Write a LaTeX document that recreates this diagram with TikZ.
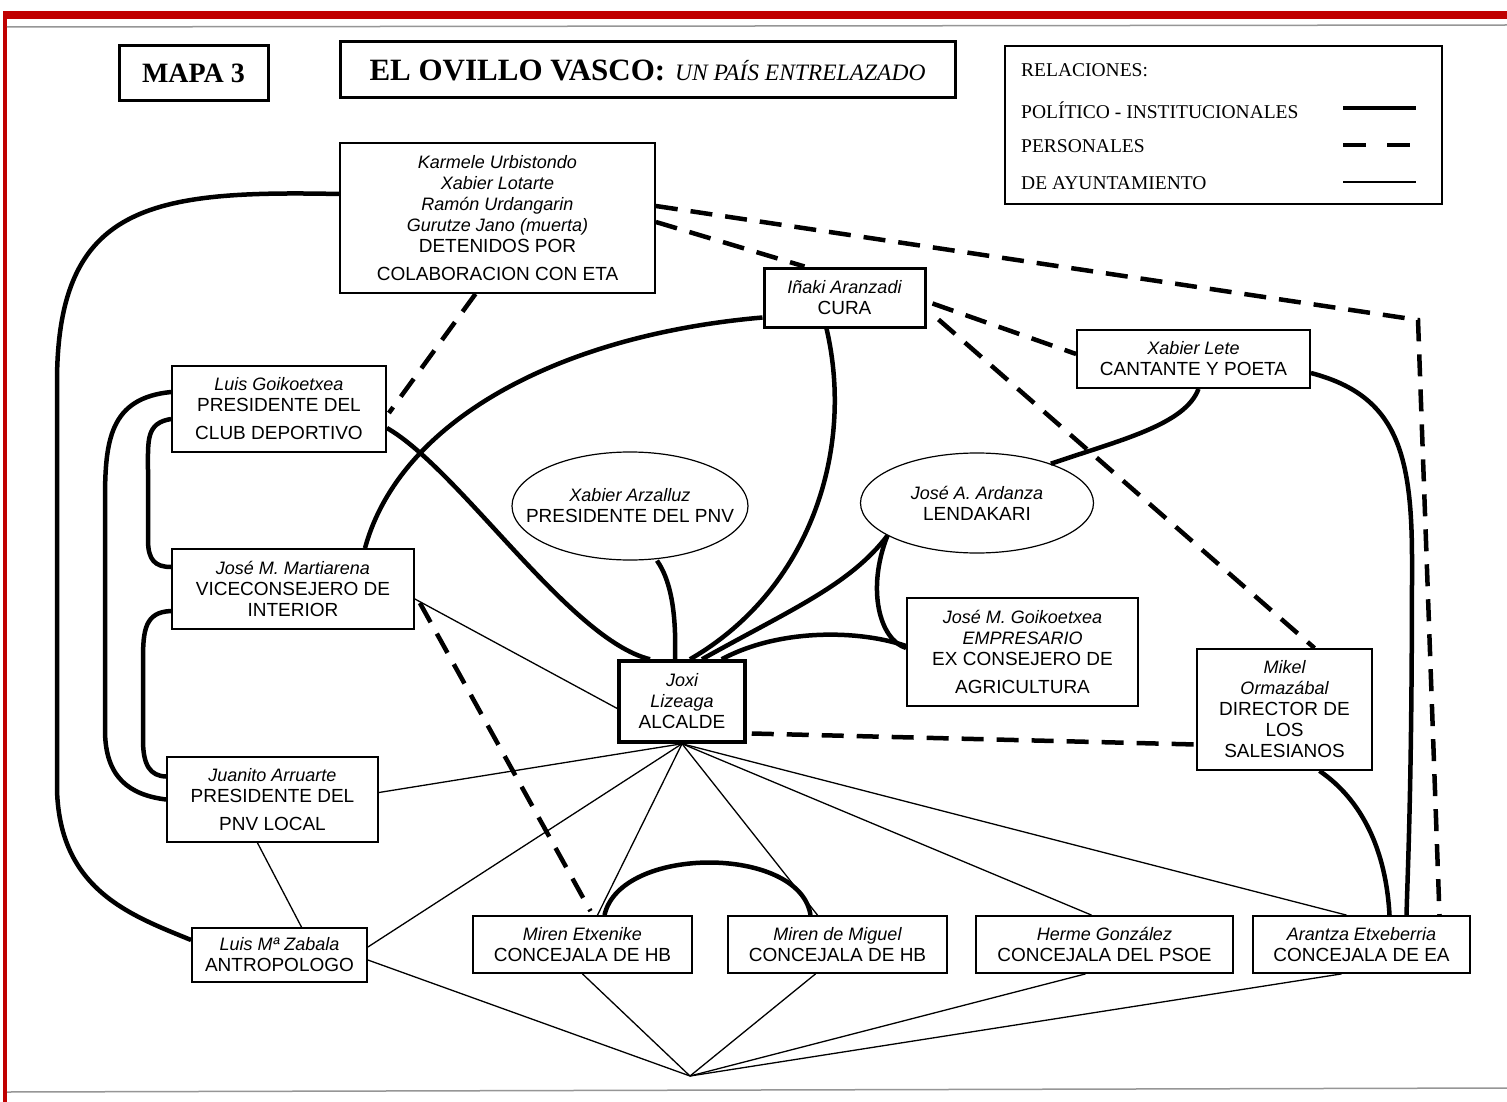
\documentclass[tikz,border=0pt]{standalone}
\usepackage{fontspec}
\setmainfont{Liberation Serif}
\setsansfont{Liberation Sans}
\usetikzlibrary{shapes.geometric}

\definecolor{framered}{RGB}{192,0,0}
\definecolor{scangray}{RGB}{150,150,150}

\newcommand\dgcaps{\sffamily\fontsize{19}{21}\selectfont}
\newcommand\dgname[1]{{\itshape\fontsize{18}{21}\selectfont #1}}

\begin{document}
\begin{tikzpicture}[x=1pt,y=-1pt,
  box/.style={draw, line width=1.8pt, inner sep=0pt, align=center, font=\dgcaps, fill=white},
  heavybox/.style={box, line width=3.5pt},
  oval/.style={ellipse, draw, line width=1.2pt, inner sep=0pt, fill=white},
  ovaltext/.style={inner sep=0pt, align=center, font=\dgcaps},
  headbox/.style={draw, line width=3pt, inner sep=0pt, align=center},
  legendtext/.style={anchor=west, inner sep=0pt, font=\rmfamily\fontsize{19.5}{20}\selectfont},
  pol/.style={line width=4.5pt},
  pers/.style={line width=4.5pt, dash pattern=on 22pt off 13pt},
  ayto/.style={line width=1.3pt},
]
\useasboundingbox (0,0) rectangle (1507,1102);
\fill[white] (0,0) rectangle (1507,1102);

% page frame
\fill[framered] (3,11) rectangle (1507,19);
\fill[framered] (3,11) rectangle (7,1102);
\draw[scangray, line width=1.5pt] (7,27) -- (1507,25);
\draw[scangray, line width=1.5pt] (7,1092) -- (1507,1088);

% headings
\node[headbox, minimum width=149pt, minimum height=55pt, font=\rmfamily\bfseries\fontsize{28}{28}\selectfont] (mapa) at (193.5,73.5) {MAPA 3};
\node[headbox, minimum width=615pt, minimum height=56pt] (title) at (647.5,70)
  {{\rmfamily\bfseries\fontsize{31}{31}\selectfont EL OVILLO VASCO:}\hspace{10pt}{\rmfamily\itshape\fontsize{23.5}{23.5}\selectfont UN PAÍS ENTRELAZADO}};

% legend
\node[draw, line width=2pt, minimum width=437pt, minimum height=158pt, inner sep=0pt] (legend) at (1223.5,125) {};
\node[legendtext] (lg0) at (1021,70) {RELACIONES:};
\node[legendtext] (lg1) at (1021,110) {POLÍTICO - INSTITUCIONALES};
\node[legendtext] (lg2) at (1021,146) {PERSONALES};
\node[legendtext] (lg3) at (1021,183) {DE AYUNTAMIENTO};
\draw[pol] (1343,108) -- (1416,108);
\draw[line width=4.5pt] (1343,145) -- (1366,145) (1387,145) -- (1410,145);
\draw[ayto] (1343,182) -- (1416,182);

% people
\node[box, minimum width=315pt, minimum height=150pt] (det) at (497.5,218)
  {\dgname{Karmele Urbistondo}\\ \dgname{Xabier Lotarte}\\ \dgname{Ramón Urdangarin}\\ \dgname{Gurutze Jano (muerta)}\\ DETENIDOS POR\\[7pt] COLABORACION CON ETA};
\node[box, line width=3pt, minimum width=161pt, minimum height=59pt] (inaki) at (844.5,297.5)
  {\dgname{Iñaki Aranzadi}\\ CURA};
\node[box, minimum width=233pt, minimum height=58pt] (lete) at (1193.5,359)
  {\dgname{Xabier Lete}\\ CANTANTE Y POETA};
\node[box, minimum width=214pt, minimum height=86pt] (luisg) at (279,409)
  {\dgname{Luis Goikoetxea}\\ PRESIDENTE DEL\\[7pt] CLUB DEPORTIVO};
\node[oval, minimum width=236pt, minimum height=108pt] (arz) at (630,506) {};
\node[ovaltext] (arzt) at (arz.center) {\dgname{Xabier Arzalluz}\\ PRESIDENTE DEL PNV};
\node[oval, minimum width=233pt, minimum height=100pt] (ard) at (977,503) {};
\node[ovaltext] (ardt) at (ard.center) {\dgname{José A. Ardanza}\\ LENDAKARI};
\node[box, minimum width=242pt, minimum height=80pt] (mart) at (293,589)
  {\dgname{José M. Martiarena}\\ VICECONSEJERO DE\\ INTERIOR};
\node[box, minimum width=231pt, minimum height=108pt] (jmg) at (1022.5,652)
  {\dgname{José M. Goikoetxea}\\ \dgname{EMPRESARIO}\\ EX CONSEJERO DE\\[7pt] AGRICULTURA};
\node[heavybox, minimum width=126pt, minimum height=81pt] (joxi) at (682,701.5)
  {\dgname{Joxi}\\ \dgname{Lizeaga}\\ ALCALDE};
\node[box, minimum width=175pt, minimum height=121pt] (mikel) at (1284.5,709.5)
  {\dgname{Mikel}\\ \dgname{Ormazábal}\\ DIRECTOR DE\\ LOS\\ SALESIANOS};
\node[box, minimum width=211pt, minimum height=85pt] (juanito) at (272.5,799.5)
  {\dgname{Juanito Arruarte}\\ PRESIDENTE DEL\\[7pt] PNV LOCAL};
\node[box, minimum width=175pt, minimum height=54pt] (luism) at (279.5,955)
  {\dgname{Luis Mª Zabala}\\ ANTROPOLOGO};
\node[box, minimum width=219pt, minimum height=57pt] (miren1) at (582.5,944.5)
  {\dgname{Miren Etxenike}\\ CONCEJALA DE HB};
\node[box, minimum width=219pt, minimum height=57pt] (miren2) at (837.5,944.5)
  {\dgname{Miren de Miguel}\\ CONCEJALA DE HB};
\node[box, minimum width=257pt, minimum height=57pt] (herme) at (1104.5,944.5)
  {\dgname{Herme González}\\ CONCEJALA DEL PSOE};
\node[box, minimum width=217pt, minimum height=57pt] (arantza) at (1361.5,944.5)
  {\dgname{Arantza Etxeberria}\\ CONCEJALA DE EA};

\coordinate (meet) at (690,1076);
\coordinate (bend) at (1418,320);

% political-institutional ties
\draw[pol] ([shift={(0,-24)}]det.west) .. controls (150,190) and (58,205) .. (57,380)
  -- (57,790) .. controls (60,890) and (130,915) .. ([shift={(0,-15)}]luism.west);
\draw[pol] ([shift={(0,19)}]luisg.east) .. controls (460,470) and (570,640) .. ([shift={(-32,0)}]joxi.north);
\draw[pol] ([shift={(0,20)}]inaki.west) .. controls (560,335) and (400,420) .. ([shift={(72,0)}]mart.north);
\draw[pol] ([shift={(-18,0)}]inaki.south) .. controls (855,450) and (810,590) .. ([shift={(8,0)}]joxi.north);
\draw[pol] ([shift={(27,0)}]arz.south) .. controls (674,585) and (676,625) .. ([shift={(-7,0)}]joxi.north);
\draw[pol] ([shift={(20,0)}]joxi.north) .. controls (790,610) and (850,585) .. (ard.200);
\draw[pol] ([shift={(-25,0)}]joxi.north east) .. controls (780,628) and (860,630) .. ([shift={(0,-6)}]jmg.west);
\draw[pol] (ard.200) .. controls (866,590) and (880,640) .. ([shift={(0,-4)}]jmg.west);
\draw[pol] ([shift={(5,0)}]lete.south) .. controls (1185,425) and (1120,440) .. (ard.28);
\draw[pol] ([shift={(0,14)}]lete.east) .. controls (1395,395) and (1412,450) .. (1412,560)
  .. controls (1412,780) and (1408,860) .. ([shift={(45,0)}]arantza.north);
\draw[pol] ([shift={(35,0)}]mikel.south) .. controls (1362,800) and (1386,850) .. ([shift={(28,0)}]arantza.north);
\draw[pol] ([shift={(22,0)}]miren1.north) .. controls (620,845) and (800,845) .. ([shift={(-27,0)}]miren2.north);
\draw[pol] ([shift={(0,-17)}]luisg.west) .. controls (110,398) and (105,440) .. (105,500)
  -- (105,730) .. controls (105,778) and (130,795) .. (juanito.west);
\draw[pol] ([shift={(0,10)}]luisg.west) .. controls (146,423) and (148,440) .. (148,470)
  -- (148,540) .. controls (148,560) and (155,567) .. ([shift={(0,-22)}]mart.west);
\draw[pol] ([shift={(0,22)}]mart.west) .. controls (145,612) and (143,630) .. (143,660)
  -- (143,740) .. controls (143,765) and (150,776) .. ([shift={(0,-23)}]juanito.west);

% personal ties
\draw[pers] ([shift={(-22,0)}]det.south) -- ([shift={(2,4)}]luisg.east);
\draw[pers] ([shift={(0,-12)}]det.east) -- (bend) -- ([shift={(78,0)}]arantza.north);
\draw[pers] ([shift={(0,4)}]det.east) -- ([shift={(-40,0)}]inaki.north);
\draw[pers] ([shift={(6,6)}]inaki.east) -- ([shift={(0,-5)}]lete.west);
\draw[pers] ([shift={(12,22)}]inaki.east) -- ([shift={(30,0)}]mikel.north);
\draw[pers] ([shift={(5,14)}]mart.east) -- ([shift={(8,-4)}]miren1.north);
\draw[pers] ([shift={(5,32)}]joxi.east) -- ([shift={(0,35)}]mikel.west);

% town council ties
\draw[ayto] ([shift={(0,10)}]mart.east) -- ([shift={(0,7)}]joxi.west);
\draw[ayto] (joxi.south) -- ([shift={(0,-7)}]juanito.east);
\draw[ayto] (joxi.south) -- ([shift={(0,-8)}]luism.east);
\draw[ayto] (joxi.south) -- ([shift={(15,0)}]miren1.north);
\draw[ayto] (joxi.south) -- ([shift={(-20,0)}]miren2.north);
\draw[ayto] (joxi.south) -- ([shift={(-13,0)}]herme.north);
\draw[ayto] (joxi.south) -- ([shift={(-15,0)}]arantza.north);
\draw[ayto] ([shift={(-15,0)}]juanito.south) -- ([shift={(22,0)}]luism.north);
\draw[ayto] ([shift={(0,5)}]luism.east) -- (meet);
\draw[ayto] (miren1.south) -- (meet);
\draw[ayto] ([shift={(-22,0)}]miren2.south) -- (meet);
\draw[ayto] ([shift={(-19,0)}]herme.south) -- (meet);
\draw[ayto] ([shift={(-20,0)}]arantza.south) -- (meet);
\end{tikzpicture}
\end{document}
